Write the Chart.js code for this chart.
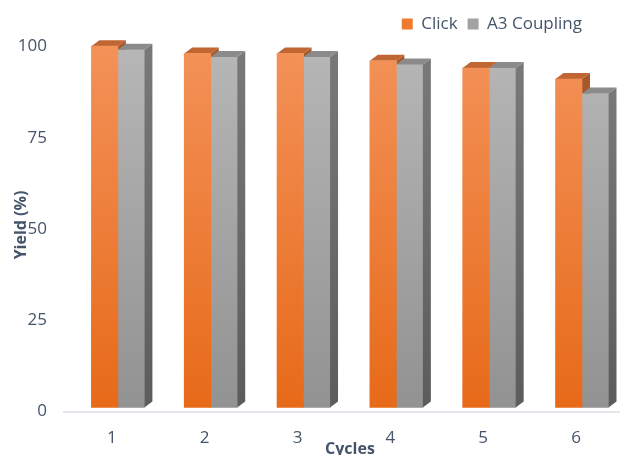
<!DOCTYPE html>
<html>
<head>
<meta charset="utf-8">
<script src="https://cdn.jsdelivr.net/npm/chart.js@4"></script>
<style>
  html, body { margin: 0; padding: 0; background: #fff; }
  #wrap { width: 620px; height: 455px; }
</style>
</head>
<body>
<div id="wrap"><canvas id="yieldChart"></canvas></div>
<script>
// recycling cycles
const cycles = ['1', '2', '3', '4', '5', '6']
// yield per cycle (%)
const clickYield = [99, 97, 97, 95, 93, 90]
const a3Yield = [98, 96, 96, 94, 93, 86]
const yTicks = [0, 25, 50, 75, 100]

const textColor = '#44546a'
const fontFamily = "'Open Sans', sans-serif"

// how far the fake 3d box goes back
const depthX = 8
const depthY = 6

// front / top / side shades for each series
const shades = [
    { front: ['#f39259', '#e76a19'], top: '#bf6633', side: ['#a8592a', '#8f4a1c'], legend: '#ef7b2f' },
    { front: ['#b7b7b7', '#929292'], top: '#8b8b8b', side: ['#787878', '#5c5c5c'], legend: '#a2a2a2' }
]

function frontGradient(context, i){
    const area = context.chart.chartArea
    if(!area){
        return shades[i].front[1]
    }
    const g = context.chart.ctx.createLinearGradient(0, area.top, 0, area.bottom)
    g.addColorStop(0, shades[i].front[0])
    g.addColorStop(1, shades[i].front[1])
    return g
}

// draws the top and right side of every bar of one dataset
function drawFaces(chart, dsIndex){
    const ctx = chart.ctx
    const meta = chart.getDatasetMeta(dsIndex)
    const s = shades[dsIndex]
    ctx.save()
    meta.data.forEach(bar => {
        const {x, y, base, width} = bar.getProps(['x', 'y', 'base', 'width'], true)
        const left = x - width / 2
        const right = x + width / 2

        const sg = ctx.createLinearGradient(0, y, 0, base)
        sg.addColorStop(0, s.side[0])
        sg.addColorStop(1, s.side[1])
        ctx.fillStyle = sg
        ctx.beginPath()
        ctx.moveTo(right, y)
        ctx.lineTo(right + depthX, y - depthY)
        ctx.lineTo(right + depthX, base - depthY)
        ctx.lineTo(right, base)
        ctx.closePath()
        ctx.fill()

        ctx.fillStyle = s.top
        ctx.beginPath()
        ctx.moveTo(left, y)
        ctx.lineTo(left + depthX, y - depthY)
        ctx.lineTo(right + depthX, y - depthY)
        ctx.lineTo(right, y)
        ctx.closePath()
        ctx.fill()
    })
    ctx.restore()
}

const boxes3d = {
    id: 'boxes3d',
    beforeDatasetsDraw(chart){
        const ctx = chart.ctx
        const area = chart.chartArea
        // floor edge
        ctx.save()
        ctx.strokeStyle = '#d9dde3'
        ctx.lineWidth = 1.5
        ctx.beginPath()
        ctx.moveTo(63, area.bottom + 4.5)
        ctx.lineTo(chart.width, area.bottom + 4.5)
        ctx.stroke()
        ctx.restore()
        drawFaces(chart, 0)
    },
    afterDatasetsDraw(chart){
        drawFaces(chart, 1)
    }
}

const data = {
    labels: cycles,
    datasets: [{
        label: 'Click',
        data: clickYield,
        backgroundColor: c => frontGradient(c, 0),
        borderWidth: 0,
        barThickness: 26.5,
        clip: false,
        yAxisID: 'y'
    }, {
        label: 'A3 Coupling',
        data: a3Yield,
        backgroundColor: c => frontGradient(c, 1),
        borderWidth: 0,
        barThickness: 26.5,
        clip: false,
        yAxisID: 'y'
    }]
}

const config = {
    type: 'bar',
    data,
    plugins: [boxes3d],
    options: {
        responsive: true,
        maintainAspectRatio: false,
        animation: false,
        devicePixelRatio: 1,
        layout: { padding: { top: 5.5, right: 28, left: 0, bottom: 0 } },
        plugins: {
            legend: {
                position: 'top',
                align: 'end',
                labels: {
                    color: textColor,
                    font: { family: fontFamily, size: 17 },
                    boxWidth: 11,
                    boxHeight: 11,
                    padding: 10,
                    generateLabels: chart => chart.data.datasets.map((ds, i) => ({
                        text: ds.label,
                        fillStyle: shades[i].legend,
                        strokeStyle: shades[i].legend,
                        lineWidth: 0,
                        hidden: false,
                        datasetIndex: i,
                        fontColor: textColor
                    }))
                }
            },
            tooltip: { enabled: false }
        },
        scales: {
            x: {
                offset: false,
                grid: { display: false, drawTicks: false },
                border: { display: false },
                ticks: {
                    color: textColor,
                    font: { family: fontFamily, size: 17 },
                    padding: 20,
                    labelOffset: -6,
                    maxRotation: 0
                },
                title: {
                    display: true,
                    text: 'Cycles',
                    color: textColor,
                    font: { family: fontFamily, size: 16, weight: 'bold' },
                    padding: { top: 0, bottom: -4 }
                },
                afterFit: s => {
                    s.height = 47.5
                    s.paddingLeft = 0
                    s.paddingRight = 0
                }
            },
            y: {
                min: 0,
                max: 100,
                afterBuildTicks: s => { s.ticks = yTicks.map(v => ({ value: v })) },
                grid: { display: false, drawTicks: false },
                border: { display: false },
                ticks: {
                    color: textColor,
                    font: { family: fontFamily, size: 17 },
                    padding: 71,
                    labelOffset: 4
                },
                title: {
                    display: true,
                    text: 'Yield (%)',
                    color: textColor,
                    font: { family: fontFamily, size: 16, weight: 'bold' },
                    padding: { top: 12, bottom: 0 }
                },
                afterFit: s => {
                    s.width = 117.9
                    s.paddingTop = 0
                    s.paddingBottom = 0
                }
            },
            // empty strip on the right so the last box has room
            pad: {
                type: 'linear',
                position: 'right',
                display: true,
                grid: { display: false, drawTicks: false },
                border: { display: false },
                ticks: { display: false },
                afterFit: s => {
                    s.width = 10
                    s.paddingTop = 0
                    s.paddingBottom = 0
                }
            }
        }
    }
}

let myChart = new Chart(document.getElementById('yieldChart'), config)
</script>
</body>
</html>
